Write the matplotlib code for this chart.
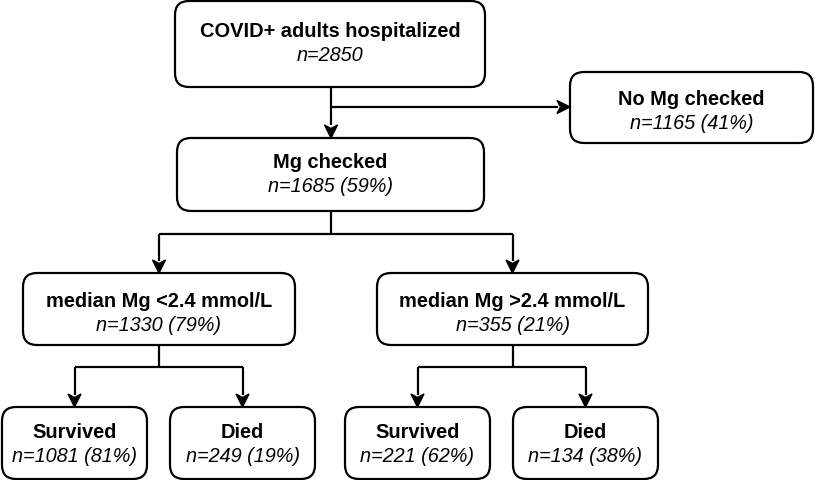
import matplotlib.pyplot as plt
from matplotlib.patches import FancyBboxPatch, Polygon

plt.rcParams['font.family'] = ['Liberation Sans', 'DejaVu Sans']

# node labels
titles = ["COVID+ adults hospitalized", "No Mg checked", "Mg checked",
          "median Mg <2.4 mmol/L", "median Mg >2.4 mmol/L",
          "Survived", "Died", "Survived", "Died"]
counts = [2850, 1165, 1685, 1330, 355, 1081, 249, 221, 134]
pcts = [None, 41, 59, 79, 21, 81, 19, 62, 38]

# box layout in pixels (x0, y0, x1, y1) and baseline of the bold line
boxes = [(175, 2, 485, 88), (570, 73, 813, 144), (177, 139, 484, 212),
         (23, 274, 295, 346), (377, 274, 648, 346),
         (2, 408, 147, 480), (170, 408, 315, 480),
         (345, 408, 490, 480), (513, 408, 658, 480)]
baselines = [37, 105, 168, 307, 307, 438, 438, 438, 438]

fig = plt.figure(figsize=(8.15, 4.81), dpi=100)
ax = fig.add_axes([0, 0, 1, 1])
ax.set_xlim(0, 815)
ax.set_ylim(481, 0)
ax.axis('off')

LW = 1.6


def arrow_head(x, y, direction):
    # tip at (x, y); direction 'down' or 'right'
    L, W, N = 13, 6.5, 3.5
    if direction == 'down':
        pts = [(x, y), (x - W, y - L), (x, y - L + N), (x + W, y - L)]
    else:
        pts = [(x, y), (x - L, y - W), (x - L + N, y), (x - L, y + W)]
    ax.add_patch(Polygon(pts, closed=True, fc='black', ec='black', lw=1, zorder=3))


def line(xs, ys):
    ax.plot(xs, ys, color='black', lw=LW, solid_capstyle='butt', zorder=2)


for i, (x0, y0, x1, y1) in enumerate(boxes):
    ax.add_patch(FancyBboxPatch((x0, y0), x1 - x0, y1 - y0,
                                boxstyle="round,pad=0,rounding_size=14",
                                fc='white', ec='black', lw=LW, zorder=1))
    cx = (x0 + x1) / 2
    sub = f"n={counts[i]}" if pcts[i] is None else f"n={counts[i]} ({pcts[i]}%)"
    ax.text(cx, baselines[i], titles[i], ha='center', va='baseline',
            fontsize=14.4, fontweight='bold', zorder=4)
    ax.text(cx, baselines[i] + 24, sub, ha='center', va='baseline',
            fontsize=14.3, style='italic', zorder=4)

# top -> Mg checked, and branch to No Mg checked
line([331, 331], [88, 126])
arrow_head(331, 139, 'down')
line([331, 558], [108, 108])
arrow_head(570, 108, 'right')

# Mg checked -> medians
line([330.5, 330.5], [212, 235])
line([159, 513], [235, 235])
for x in (159, 512.5):
    line([x, x], [235, 262])
    arrow_head(x, 274, 'down')

# medians -> outcomes
for cx, (lx, rx) in ((159, (74.5, 242.5)), (512.5, (417.5, 585.5))):
    line([cx, cx], [346, 368])
    line([lx, rx], [368, 368])
    for x in (lx, rx):
        line([x, x], [368, 396])
        arrow_head(x, 408, 'down')

fig.savefig('out.png', dpi=100)
